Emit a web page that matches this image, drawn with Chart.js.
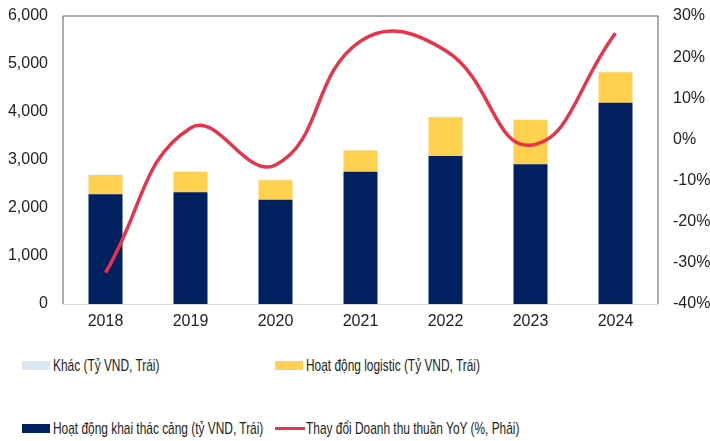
<!DOCTYPE html>
<html>
<head>
<meta charset="utf-8">
<script src="https://cdn.jsdelivr.net/npm/chart.js@4.4.1/dist/chart.umd.min.js"></script>
<style>
  body { margin: 0; background: #fff; font-family: "Liberation Sans", Arial, sans-serif; }
  .wrap { position: relative; width: 710px; height: 441px; }
  .chart-box { position: absolute; left: 0; top: 0; width: 710px; height: 340px; }
  .leg { position: absolute; height: 20px; white-space: nowrap; }
  .leg .sw { position: absolute; left: 0; }
  .leg .tx { position: absolute; left: 31px; top: 0; font-size: 17px; color: #222; transform: scaleX(0.7); transform-origin: left center; line-height: 20px; }
</style>
</head>
<body>
<div class="wrap">
  <div class="chart-box"><canvas id="myChart"></canvas></div>
  <div class="leg" style="left:22px; top:356px;"><span class="sw" style="top:5px; width:28px; height:9px; background:#DCE6F2;"></span><span class="tx">Khác (Tỷ VND, Trái)</span></div>
  <div class="leg" style="left:275px; top:356px;"><span class="sw" style="top:5px; width:28px; height:9px; background:#FFD14F;"></span><span class="tx">Hoạt động logistic (Tỷ VND, Trái)</span></div>
  <div class="leg" style="left:22px; top:419px;"><span class="sw" style="top:5px; width:28px; height:9px; background:#002060;"></span><span class="tx">Hoạt động khai thác cảng (tỷ VND, Trái)</span></div>
  <div class="leg" style="left:275px; top:419px;"><span class="sw" style="top:8px; width:30px; height:3px; background:#E8334A;"></span><span class="tx">Thay đổi Doanh thu thuần YoY (%, Phải)</span></div>
</div>
<script>
// data
const years = ['2018', '2019', '2020', '2021', '2022', '2023', '2024'];
const portOps = [2285, 2327, 2173, 2757, 3083, 2910, 4194];
const logistics = [400, 425, 405, 440, 810, 925, 635];
const other = [15, 12, 10, 12, 10, 10, 12];
const revenueYoY = [-32.4, 2.8, -6.2, 23.9, 21.6, -1.4, 25.8];

const leftTicks = [0, 6000, 1000];
const rightTicks = [-40, 30, 10];

// frame around the plot (top + right side)
const framePlugin = {
  id: 'frame',
  afterDatasetsDraw(chart) {
    const { ctx, chartArea: a } = chart;
    ctx.save();
    ctx.strokeStyle = '#595959';
    ctx.lineWidth = 1;
    ctx.beginPath();
    ctx.moveTo(a.left, a.bottom);
    ctx.lineTo(a.left, a.top);
    ctx.lineTo(a.right, a.top);
    ctx.lineTo(a.right, a.bottom);
    ctx.stroke();
    ctx.strokeStyle = '#D9D9D9';
    ctx.beginPath();
    ctx.moveTo(a.left, a.bottom + 0.5);
    ctx.lineTo(a.right, a.bottom + 0.5);
    ctx.stroke();
    ctx.restore();
  }
};

// keep the y axes from pushing the plot down (tick padding is horizontal only here)
function fixY(width) {
  return function (scale) {
    scale.width = width;
    scale.paddingTop = 8;
    scale.paddingBottom = 8;
  };
}

const ctx = document.getElementById('myChart');

new Chart(ctx, {
  data: {
    labels: years,
    datasets: [
      {
        type: 'line',
        label: 'Thay đổi Doanh thu thuần YoY (%, Phải)',
        data: revenueYoY,
        yAxisID: 'y1',
        borderColor: '#E8334A',
        borderWidth: 3.5,
        pointRadius: 0,
        tension: 0.45,
        order: 0
      },
      {
        type: 'bar',
        label: 'Hoạt động khai thác cảng (tỷ VND, Trái)',
        data: portOps,
        backgroundColor: '#002060',
        barPercentage: 0.4,
        categoryPercentage: 1,
        order: 1
      },
      {
        type: 'bar',
        label: 'Hoạt động logistic (Tỷ VND, Trái)',
        data: logistics,
        backgroundColor: '#FFD14F',
        barPercentage: 0.4,
        categoryPercentage: 1,
        order: 1
      },
      {
        type: 'bar',
        label: 'Khác (Tỷ VND, Trái)',
        data: other,
        backgroundColor: '#DCE6F2',
        barPercentage: 0.4,
        categoryPercentage: 1,
        order: 1
      }
    ]
  },
  options: {
    responsive: true,
    maintainAspectRatio: false,
    animation: false,
    layout: { padding: { top: 16, left: 0, right: 0, bottom: 0 } },
    scales: {
      x: {
        stacked: true,
        grid: { display: false, drawTicks: false },
        border: { display: false },
        ticks: { color: '#222', font: { family: 'Liberation Sans', size: 16 }, padding: 8 },
        afterFit(scale) { scale.height = 36; }
      },
      y: {
        stacked: true,
        position: 'left',
        min: leftTicks[0],
        max: leftTicks[1],
        grid: { display: false, drawTicks: false },
        border: { display: false },
        ticks: {
          stepSize: leftTicks[2],
          color: '#222',
          font: { family: 'Liberation Sans', size: 16 },
          padding: 15,
          callback: v => v.toLocaleString('en-US')
        },
        afterFit: fixY(63)
      },
      y1: {
        position: 'right',
        min: rightTicks[0],
        max: rightTicks[1],
        grid: { display: false, drawTicks: false },
        border: { display: false },
        ticks: {
          stepSize: rightTicks[2],
          color: '#222',
          font: { family: 'Liberation Sans', size: 16 },
          padding: 15,
          callback: v => v + '%'
        },
        afterFit: fixY(52)
      }
    },
    plugins: {
      legend: { display: false },
      tooltip: { enabled: false }
    }
  },
  plugins: [framePlugin]
});
</script>
</body>
</html>
